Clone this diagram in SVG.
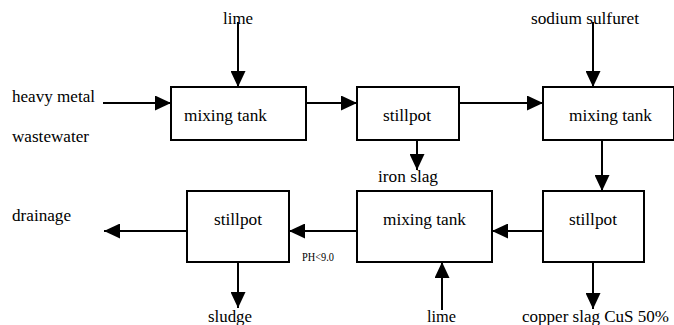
<svg xmlns="http://www.w3.org/2000/svg" width="674" height="325" viewBox="0 0 674 325">
<style>
.box{fill:#fff;stroke:#000;stroke-width:2}
.ln{fill:none;stroke:#000;stroke-width:2;marker-end:url(#ah)}
.t{font-family:'Liberation Serif','Times New Roman',serif;font-size:16px;fill:#000}
.sm{font-size:11.5px}
</style>
<defs>
<marker id="ah" markerUnits="userSpaceOnUse" markerWidth="16" markerHeight="15" refX="16" refY="7.5" orient="auto">
<path d="M0,0 L16,7.5 L0,15 Z" fill="#000"/>
</marker>
</defs>
<rect width="674" height="325" fill="#fff"/>
<g id="connectors">
<path class="ln" d="M238,22 V87"/>
<path class="ln" d="M103,103 H171"/>
<path class="ln" d="M306,103 H357"/>
<path class="ln" d="M459,103 H543"/>
<path class="ln" d="M593,22 V87"/>
<path class="ln" d="M417,140 V170"/>
<path class="ln" d="M602,140 V191"/>
<path class="ln" d="M543,231 H492"/>
<path class="ln" d="M357,231 H289"/>
<path class="ln" d="M187,231 H104"/>
<path class="ln" d="M238,262 V308"/>
<path class="ln" d="M442,310 V262"/>
<path class="ln" d="M593,262 V309"/>
</g>
<g id="mix1"><rect class="box" x="171" y="87" width="135" height="53"/><text class="t" x="184" y="121" textLength="83" lengthAdjust="spacingAndGlyphs">mixing tank</text></g>
<g id="still1"><rect class="box" x="357" y="87" width="102" height="53"/><text class="t" x="383" y="121" textLength="48" lengthAdjust="spacingAndGlyphs">stillpot</text></g>
<g id="mix2"><rect class="box" x="543" y="87" width="131" height="53"/><text class="t" x="569" y="121" textLength="83" lengthAdjust="spacingAndGlyphs">mixing tank</text></g>
<g id="still2"><rect class="box" x="543" y="191" width="101" height="71"/><text class="t" x="569" y="225" textLength="48" lengthAdjust="spacingAndGlyphs">stillpot</text></g>
<g id="mix3"><rect class="box" x="357" y="191" width="135" height="71"/><text class="t" x="383" y="225" textLength="83" lengthAdjust="spacingAndGlyphs">mixing tank</text></g>
<g id="still3"><rect class="box" x="187" y="191" width="102" height="71"/><text class="t" x="214" y="225" textLength="48" lengthAdjust="spacingAndGlyphs">stillpot</text></g>
<g id="labels">
<text class="t" x="223" y="24" textLength="30" lengthAdjust="spacingAndGlyphs">lime</text>
<text class="t" x="12" y="102" textLength="83" lengthAdjust="spacingAndGlyphs">heavy metal</text>
<text class="t" x="12" y="142" textLength="77" lengthAdjust="spacingAndGlyphs">wastewater</text>
<text class="t" x="531" y="24" textLength="108" lengthAdjust="spacingAndGlyphs">sodium sulfuret</text>
<text class="t" x="378" y="182" textLength="60" lengthAdjust="spacingAndGlyphs">iron slag</text>
<text class="t" x="12" y="221" textLength="59" lengthAdjust="spacingAndGlyphs">drainage</text>
<text class="t sm" x="302" y="261" textLength="32" lengthAdjust="spacingAndGlyphs">PH&lt;9.0</text>
<text class="t" x="208" y="322" textLength="44" lengthAdjust="spacingAndGlyphs">sludge</text>
<text class="t" x="427" y="322" textLength="29" lengthAdjust="spacingAndGlyphs">lime</text>
<text class="t" x="522" y="322" textLength="147" lengthAdjust="spacingAndGlyphs">copper slag CuS 50%</text>
</g>
</svg>
